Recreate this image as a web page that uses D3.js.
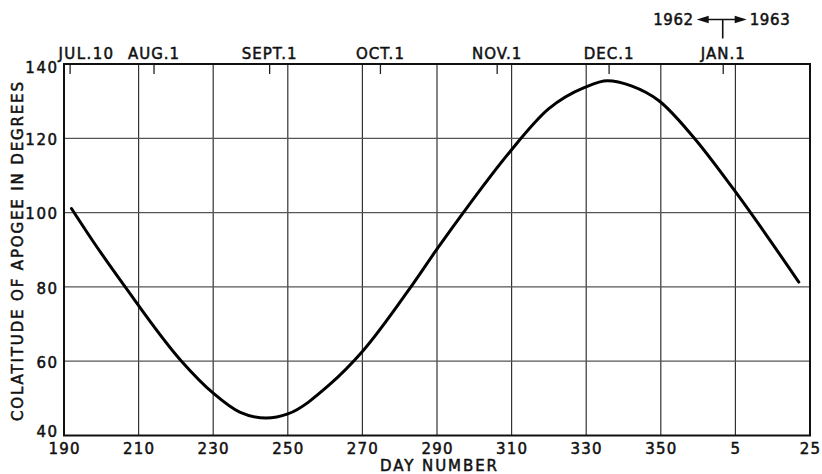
<!DOCTYPE html>
<html>
<head>
<meta charset="utf-8">
<script src="https://cdn.jsdelivr.net/npm/d3@7/dist/d3.min.js"></script>
<style>
  html, body { margin: 0; padding: 0; background: #fff; }
  svg { display: block; }
  text { font-family: "DejaVu Sans", sans-serif; fill: #111; stroke: #111; stroke-width: 0.5px; }
</style>
</head>
<body>
<svg id="chart" width="822" height="474"></svg>
<script>
// Day number runs past the year end: days of 1963 are counted from 365.
const dayTicks = [190, 210, 230, 250, 270, 290, 310, 330, 350, 370, 390];
const dayTickLabels = ["190", "210", "230", "250", "270", "290", "310", "330", "350", "5", "25"];

const colatTicks = [40, 60, 80, 100, 120, 140];

// Calendar dates marked along the top edge (position in day number)
const monthDays = [191.5, 214, 245, 274.7, 306, 336, 366.6];
const monthLabels = ["JUL.10", "AUG.1", "SEPT.1", "OCT.1", "NOV.1", "DEC.1", "JAN.1"];

// Colatitude of apogee (degrees) against day number
const curveDays = [192, 197.5, 206.4, 221.5, 230, 237.1, 244.2, 250, 261.1, 270,
                   283, 289.6, 297.2, 309.4, 319.9, 329.6, 335.7, 342.1, 349.5, 358.6,
                   369.5, 387];
const colatitude = [101.1, 92.7, 80, 60, 51.4, 46.3, 44.7, 45.8, 53.6, 62.6,
                    80, 89.6, 100.2, 116.2, 127.9, 133.7, 135.5, 134.1, 130.1, 120.5,
                    106.3, 81.3];

const svg = d3.select("#chart");
const plotLeft = 64, plotRight = 810, plotTop = 64, plotBottom = 435.5;

const x = d3.scaleLinear().domain([190, 390]).range([plotLeft, plotRight]);
const y = d3.scaleLinear().domain([40, 140]).range([plotBottom, plotTop]);

// grid
const grid = svg.append("g").attr("stroke", "#333").attr("stroke-width", 1.2);
grid.selectAll("line.v").data(dayTicks.slice(1, -1)).join("line")
  .attr("class", "v")
  .attr("x1", d => x(d)).attr("x2", d => x(d))
  .attr("y1", plotTop).attr("y2", plotBottom);
grid.selectAll("line.h").data(colatTicks.slice(1, -1)).join("line")
  .attr("class", "h")
  .attr("x1", plotLeft).attr("x2", plotRight)
  .attr("y1", d => y(d)).attr("y2", d => y(d))
  .attr("stroke", "#555");

// bottom axis: day number
const xAxis = d3.axisBottom(x)
  .tickValues(dayTicks)
  .tickFormat((d, i) => dayTickLabels[i])
  .tickSize(0).tickPadding(7.5);
const gx = svg.append("g").attr("transform", `translate(0,${plotBottom})`).call(xAxis);
gx.select(".domain").remove();
gx.selectAll("text").attr("font-size", 15).attr("font-family", null).attr("fill", null)
  .style("letter-spacing", "1.2px");

// left axis: colatitude
const yAxis = d3.axisLeft(y).tickValues(colatTicks).tickSize(0).tickPadding(5.5);
const gy = svg.append("g").attr("transform", `translate(${plotLeft},0)`).call(yAxis);
gy.select(".domain").remove();
gy.selectAll("text").attr("font-size", 15).attr("font-family", null).attr("fill", null)
  .style("letter-spacing", "1.5px")
  .attr("dy", d => d === 140 ? "0.58em" : d === 40 ? "0.08em" : "0.42em");

// top axis: calendar dates, ticks pointing into the plot
const tAxis = d3.axisTop(x)
  .tickValues(monthDays)
  .tickFormat((d, i) => monthLabels[i])
  .tickSizeInner(-10).tickSizeOuter(0).tickPadding(4.7);
const gt = svg.append("g").attr("transform", `translate(0,${plotTop})`).call(tAxis);
gt.select(".domain").remove();
gt.selectAll(".tick line").attr("stroke", "#222").attr("stroke-width", 1.3);
gt.selectAll("text").attr("font-size", 15).attr("font-family", null).attr("fill", null)
  .style("letter-spacing", "1px")
  .attr("y", -4.7);
gt.selectAll("text").filter((d, i) => i === 0)
  .attr("text-anchor", "start").attr("x", -11.6).style("letter-spacing", "1.4px");

// frame
svg.append("rect")
  .attr("x", plotLeft).attr("y", plotTop)
  .attr("width", plotRight - plotLeft).attr("height", plotBottom - plotTop)
  .attr("fill", "none").attr("stroke", "#111").attr("stroke-width", 2);

// curve
const line = d3.line()
  .x((d, i) => x(curveDays[i]))
  .y(d => y(d))
  .curve(d3.curveMonotoneX);
svg.append("path")
  .datum(colatitude)
  .attr("d", line)
  .attr("fill", "none")
  .attr("stroke", "#000")
  .attr("stroke-width", 3)
  .attr("stroke-linejoin", "round")
  .attr("stroke-linecap", "round");

// axis titles
svg.append("text")
  .attr("x", (plotLeft + plotRight) / 2 + 1.5).attr("y", 470.5)
  .attr("text-anchor", "middle")
  .attr("font-size", 15)
  .attr("textLength", 117).attr("lengthAdjust", "spacing")
  .text("DAY NUMBER");

svg.append("text")
  .attr("transform", "translate(23.3,251.5) rotate(-90)")
  .attr("x", -169.5)
  .attr("font-size", 15)
  .attr("textLength", 339).attr("lengthAdjust", "spacing")
  .text("COLATITUDE OF APOGEE IN DEGREES");

// year change marker above JAN.1
const yearX = x(366.6);
const ann = svg.append("g");
ann.append("line").attr("x1", yearX).attr("x2", yearX).attr("y1", 19.5).attr("y2", 38.5)
  .attr("stroke", "#111").attr("stroke-width", 1.6);
ann.append("line").attr("x1", yearX - 20).attr("x2", yearX + 20).attr("y1", 19.5).attr("y2", 19.5)
  .attr("stroke", "#111").attr("stroke-width", 1.6);
ann.append("path")
  .attr("d", `M${yearX - 26},19.5 L${yearX - 14},15.8 L${yearX - 14},23.2 Z`)
  .attr("fill", "#111");
ann.append("path")
  .attr("d", `M${yearX + 24},19.5 L${yearX + 12},15.8 L${yearX + 12},23.2 Z`)
  .attr("fill", "#111");
ann.append("text").attr("x", yearX - 29).attr("y", 25.3).attr("text-anchor", "end")
  .attr("font-size", 15).style("letter-spacing", "0.6px").text("1962");
ann.append("text").attr("x", yearX + 27).attr("y", 25.3).attr("text-anchor", "start")
  .attr("font-size", 15).style("letter-spacing", "0.6px").text("1963");
</script>
</body>
</html>
